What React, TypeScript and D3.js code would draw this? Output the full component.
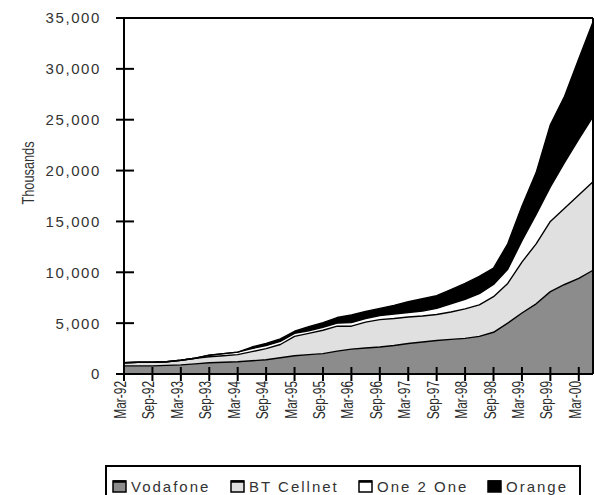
import * as d3 from "d3";
import React from "react";

// quarterly subscribers, thousands
const quarters = [
  "Mar-92", "Jun-92", "Sep-92", "Dec-92", "Mar-93", "Jun-93", "Sep-93", "Dec-93",
  "Mar-94", "Jun-94", "Sep-94", "Dec-94", "Mar-95", "Jun-95", "Sep-95", "Dec-95",
  "Mar-96", "Jun-96", "Sep-96", "Dec-96", "Mar-97", "Jun-97", "Sep-97", "Dec-97",
  "Mar-98", "Jun-98", "Sep-98", "Dec-98", "Mar-99", "Jun-99", "Sep-99", "Dec-99",
  "Mar-00", "Jun-00",
];
const vodafone = [800, 800, 800, 850, 900, 1000, 1100, 1150, 1200, 1300, 1400, 1600, 1800, 1900, 2000, 2250, 2450, 2550, 2650, 2800, 3000, 3150, 3300, 3400, 3500, 3700, 4100, 5000, 6000, 6900, 8100, 8800, 9400, 10200];
const cellnet = [300, 350, 350, 350, 450, 550, 600, 650, 700, 900, 1100, 1300, 1900, 2100, 2300, 2450, 2250, 2550, 2700, 2650, 2600, 2550, 2550, 2700, 2900, 3100, 3500, 3900, 5000, 5900, 6900, 7500, 8200, 8700];
const one2one = [0, 0, 0, 0, 0, 0, 150, 200, 250, 300, 300, 300, 300, 250, 300, 300, 350, 350, 400, 450, 450, 500, 600, 800, 950, 1100, 1200, 1400, 2100, 2900, 3400, 4500, 5500, 6400];
const orange = [0, 0, 0, 0, 0, 0, 0, 0, 0, 150, 200, 250, 200, 400, 450, 550, 750, 700, 700, 850, 1050, 1200, 1250, 1400, 1550, 1700, 1600, 2500, 3400, 4100, 6100, 6500, 7900, 9300];

const seriesNames = ["Vodafone", "BT Cellnet", "One 2 One", "Orange"];
const seriesColors = ["#8c8c8c", "#e0e0e0", "#ffffff", "#000000"];
const yTicks = [0, 5000, 10000, 15000, 20000, 25000, 30000, 35000];

const W = 595, H = 495;
const L = 124, R = 593, T = 18, B = 374;
const font = "'Liberation Sans', Arial, sans-serif";

export default function App() {
  const rows = quarters.map((q, i) => ({
    q,
    Vodafone: vodafone[i],
    "BT Cellnet": cellnet[i],
    "One 2 One": one2one[i],
    Orange: orange[i],
  }));
  const series = d3.stack<any>().keys(seriesNames)(rows);

  const x = d3.scaleLinear([0, quarters.length - 1], [L, R]);
  const y = d3.scaleLinear([0, 35000], [B, T]);

  const area = d3.area<any>()
    .x((d, i) => x(i))
    .y0(d => y(d[0]))
    .y1(d => y(d[1]));
  const line = d3.line<any>()
    .x((d, i) => x(i))
    .y(d => y(d[1]));

  const fmt = d3.format(",");
  const xTickIdx = quarters.map((_, i) => i).filter(i => i % 2 === 0);

  // legend: swatch x positions
  const legendX = [113, 231, 359, 488];

  return (
    <svg width={W} height={H} style={{ position: "absolute", left: 0, top: 0, background: "#fff" }}>
      {series.map((s, k) => (
        <path key={"a" + k} d={area(s) || ""} fill={seriesColors[k]} stroke="none" />
      ))}
      {series.map((s, k) => (
        <path key={"l" + k} d={line(s) || ""} fill="none" stroke="#000" strokeWidth={1.4} strokeLinejoin="round" />
      ))}

      {/* frame */}
      <line x1={L - 8} x2={R} y1={T} y2={T} stroke="#000" strokeWidth={2} />
      <line x1={R} x2={R} y1={T} y2={B} stroke="#000" strokeWidth={2} />
      <line x1={L} x2={L} y1={T} y2={B + 7} stroke="#000" strokeWidth={2} />
      <line x1={L - 8} x2={R} y1={B} y2={B} stroke="#000" strokeWidth={2} />

      {yTicks.map(t => (
        <g key={"y" + t}>
          <line x1={L - 8} x2={L + 10} y1={y(t)} y2={y(t)} stroke="#000" strokeWidth={2} />
          <text x={101} y={y(t)} dy="0.36em" textAnchor="end" fontFamily={font} fontSize={15}
            letterSpacing={1.6} fill="#333">{fmt(t)}</text>
        </g>
      ))}

      {xTickIdx.map(i => (
        <g key={"x" + i}>
          <line x1={x(i)} x2={x(i)} y1={B - 7} y2={B + 7} stroke="#000" strokeWidth={2} />
          <text transform={`translate(${x(i) + 2},381) rotate(-90) scale(0.7,1)`} textAnchor="end"
            fontFamily={font} fontSize={17} fill="#2a2a2a">{quarters[i]}</text>
        </g>
      ))}

      <text transform="translate(34,173) rotate(-90) scale(0.8,1)" textAnchor="middle"
        fontFamily={font} fontSize={16} fill="#333">Thousands</text>

      {/* legend */}
      <rect x={106} y={466} width={474} height={40} fill="none" stroke="#000" strokeWidth={2} />
      {seriesNames.map((n, k) => (
        <g key={"lg" + k}>
          <rect x={legendX[k]} y={481} width={13} height={11} fill={seriesColors[k]} stroke="#000" strokeWidth={1.5} />
          <line x1={legendX[k]} x2={legendX[k] + 13} y1={481.5} y2={481.5} stroke="#000" strokeWidth={2.5} />
          <text x={legendX[k] + 18} y={492} fontFamily={font} fontSize={15} letterSpacing={2}
            fill="#333">{n}</text>
        </g>
      ))}
    </svg>
  );
}
